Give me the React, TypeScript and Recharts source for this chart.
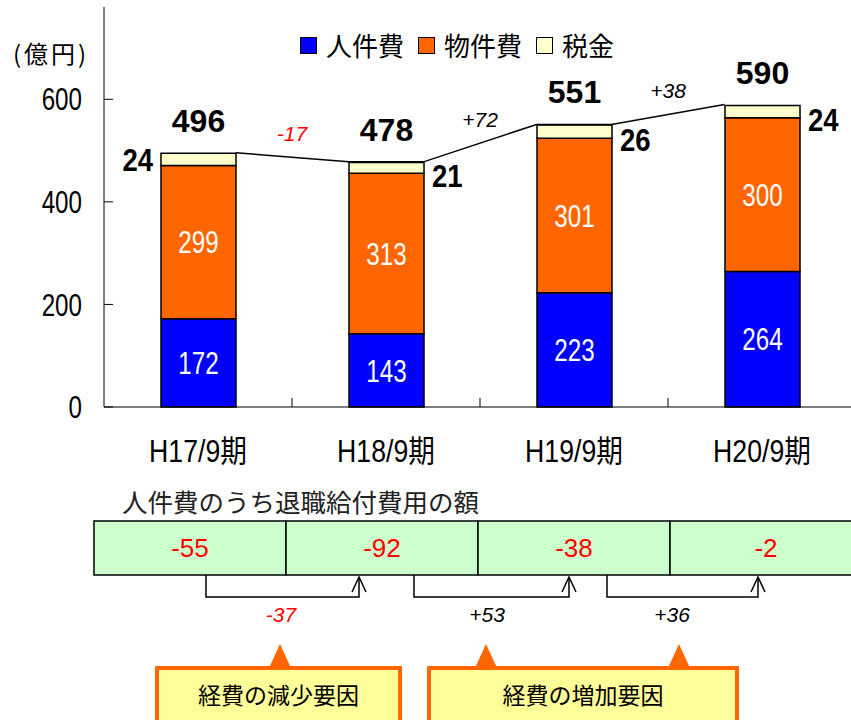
import React from 'react';
import { ComposedChart, Bar, Line, XAxis, YAxis, LabelList, ReferenceDot } from 'recharts';

const periods = ['H17/9期', 'H18/9期', 'H19/9期', 'H20/9期'];
const personnel = [172, 143, 223, 264];
const goods = [299, 313, 301, 300];
const taxes = [24, 21, 26, 24];
const totals = [496, 478, 551, 590];
const changes = ['-17', '+72', '+38'];
const yTicks = [0, 200, 400, 600];

const retirement = ['-55', '-92', '-38', '-2'];
const retirementChanges = ['-37', '+53', '+36'];
const factorBoxes = ['経費の減少要因', '経費の増加要因'];

const NUM_FONT = '"Liberation Sans", Arial, sans-serif';
const JP_FONT = '"Noto Sans CJK JP", sans-serif';
const MIX_FONT = '"Liberation Sans", "Noto Sans CJK JP", sans-serif';

const BLUE = '#0000ff';
const ORANGE = '#ff6600';
const CREAM = '#ffffcc';

const CHART_W = 870;
const CHART_H = 480;
const MARGIN = { top: 7, right: 14, left: 44, bottom: 23 };
const BAND = (CHART_W - MARGIN.left - MARGIN.right - 60) / periods.length;
const BAR_SIZE = 75;
const HALF = BAR_SIZE / 2 / BAND;

const data = periods.map((period, i) => ({
  period,
  personnel: personnel[i],
  goods: goods[i],
  tax: taxes[i],
}));

// connector from the top right corner of one bar to the top left of the next
const connector = totals.flatMap((t, i) => {
  const pts = [];
  if (i > 0) pts.push({ x: i - HALF, v: t });
  if (i < totals.length - 1) pts.push({ x: i + HALF, v: t });
  return pts;
});

// condensed text, the original uses a narrow face for the numbers
const NText = ({ x, y, anchor = 'middle', size = 31, sx = 0.78, fill = '#000', font = NUM_FONT, weight = 'normal', children }: any) => (
  <text
    transform={`translate(${x} ${y}) scale(${sx} 1)`}
    dy="0.36em"
    textAnchor={anchor}
    fontSize={size}
    fontWeight={weight}
    fontFamily={font}
    fill={fill}
  >
    {children}
  </text>
);

const YTick = (p: any) => (
  <g>
    <NText x={p.x} y={p.y} anchor="end">{p.payload.value}</NText>
    <line x1={p.x + 22} x2={p.x + 31} y1={p.y} y2={p.y} stroke="#000" />
  </g>
);

const XTick = (p: any) => (
  <g>
    <NText x={p.x} y={p.y + 14} size={31} sx={0.86} font={MIX_FONT}>{p.payload.value}</NText>
    {p.index < periods.length - 1 && (
      <line x1={p.x + BAND / 2} x2={p.x + BAND / 2} y1={p.y - 30} y2={p.y - 39} stroke="#000" />
    )}
  </g>
);

const InnerLabel = (p: any) => (
  <NText x={p.x + p.width / 2} y={p.y + p.height / 2} fill="#fff">{p.value}</NText>
);

const TaxLabel = (p: any) => {
  const { x, y, width, height, index, value } = p;
  const left = index === 0;
  return (
    <NText
      x={left ? x - 8 : x + width + 8}
      y={y + height / 2 + (left ? 0 : 8)}
      anchor={left ? 'end' : 'start'}
      size={32}
      sx={0.86}
      weight="bold"
    >
      {value}
    </NText>
  );
};

const TotalLabel = (p: any) => {
  const { x, y, width, index } = p;
  return (
    <text x={x + width / 2} y={y - 33} dy="0.36em" textAnchor="middle" fontSize={32} fontWeight="bold" fontFamily={NUM_FONT} fill="#000">
      {totals[index]}
    </text>
  );
};

const Legend = () => {
  const items = [
    { name: '人件費', color: BLUE },
    { name: '物件費', color: ORANGE },
    { name: '税金', color: CREAM },
  ];
  return (
    <div style={{ position: 'absolute', left: 300, top: 31, display: 'flex', alignItems: 'center', fontFamily: JP_FONT, fontSize: 26, lineHeight: '28px' }}>
      {items.map((it) => (
        <div key={it.name} style={{ display: 'flex', alignItems: 'center', marginRight: 14 }}>
          <span style={{ width: 15, height: 15, background: it.color, border: '1px solid #000', marginRight: 9, display: 'inline-block' }} />
          <span>{it.name}</span>
        </div>
      ))}
    </div>
  );
};

const CELL_X0 = 94;
const CELL_W = 192;
const bracketStart = [206, 414, 607];
const bracketEnd = [359, 569, 758];
const changeX = [281, 487, 672];
const boxes = [
  { x: 157, w: 243, tips: [280] },
  { x: 429, w: 308, tips: [486, 679] },
];

const Bottom = () => (
  <svg width={851} height={720} style={{ position: 'absolute', left: 0, top: 0, pointerEvents: 'none' }}>
    <text x={122} y={500} dominantBaseline="central" fontSize={25.5} fontFamily={JP_FONT} fill="#222">
      人件費のうち退職給付費用の額
    </text>
    {retirement.map((v, i) => (
      <g key={i}>
        <rect x={CELL_X0 + CELL_W * i} y={521} width={CELL_W} height={54} fill="#ccffcc" stroke="#000" strokeWidth={1.5} />
        <text x={CELL_X0 + CELL_W * i + CELL_W / 2} y={548} dominantBaseline="central" textAnchor="middle" fontSize={26} fontFamily={NUM_FONT} fill="#ff0000">
          {v}
        </text>
      </g>
    ))}
    {retirementChanges.map((c, i) => (
      <g key={i}>
        <path d={`M${bracketStart[i]} 575 V597 H${bracketEnd[i]} V577`} fill="none" stroke="#000" strokeWidth={1.5} />
        <path d={`M${bracketEnd[i] - 7} 592 L${bracketEnd[i]} 577 L${bracketEnd[i] + 7} 592`} fill="none" stroke="#000" strokeWidth={1.5} />
        <text x={changeX[i]} y={614} dominantBaseline="central" textAnchor="middle" fontSize={21} fontStyle="italic" fontFamily={NUM_FONT} fill={c.startsWith('-') ? '#ff0000' : '#000'}>
          {c}
        </text>
      </g>
    ))}
    {boxes.map((b, i) => (
      <g key={i}>
        {b.tips.map((t) => (
          <path key={t} d={`M${t - 11} 668 L${t} 644 L${t + 11} 668 Z`} fill={ORANGE} />
        ))}
        <rect x={b.x} y={668} width={b.w} height={70} fill="#ffff99" stroke={ORANGE} strokeWidth={4} />
        <text x={b.x + b.w / 2} y={694} dominantBaseline="central" textAnchor="middle" fontSize={23} fontFamily={JP_FONT} fill="#000">
          {factorBoxes[i]}
        </text>
      </g>
    ))}
  </svg>
);

export default function App() {
  return (
    <div style={{ position: 'absolute', left: 0, top: 0, width: 851, height: 720, overflow: 'hidden', background: '#fff' }}>
      <ComposedChart width={CHART_W} height={CHART_H} data={data} margin={MARGIN}>
        <XAxis
          xAxisId="cat"
          dataKey="period"
          tick={XTick}
          tickLine={false}
          tickSize={0}
          tickMargin={30}
          height={50}
          axisLine={{ stroke: '#000' }}
        />
        <XAxis xAxisId="num" type="number" dataKey="x" domain={[-0.5, 3.5]} allowDataOverflow hide />
        <YAxis
          domain={[0, 780]}
          ticks={yTicks}
          tick={YTick}
          tickLine={false}
          tickSize={0}
          tickMargin={22}
          width={60}
          axisLine={{ stroke: '#000' }}
        />
        <Bar xAxisId="cat" dataKey="personnel" stackId="s" fill={BLUE} stroke="#000" strokeWidth={1.5} barSize={BAR_SIZE} isAnimationActive={false}>
          <LabelList dataKey="personnel" content={InnerLabel} />
        </Bar>
        <Bar xAxisId="cat" dataKey="goods" stackId="s" fill={ORANGE} stroke="#000" strokeWidth={1.5} barSize={BAR_SIZE} isAnimationActive={false}>
          <LabelList dataKey="goods" content={InnerLabel} />
        </Bar>
        <Bar xAxisId="cat" dataKey="tax" stackId="s" fill={CREAM} stroke="#000" strokeWidth={1.5} barSize={BAR_SIZE} isAnimationActive={false}>
          <LabelList dataKey="tax" content={TaxLabel} />
          <LabelList dataKey="tax" content={TotalLabel} />
        </Bar>
        <Line
          xAxisId="num"
          data={connector}
          dataKey="v"
          type="linear"
          stroke="#000"
          strokeWidth={1.5}
          dot={false}
          isAnimationActive={false}
        />
        {changes.map((c, i) => (
          <ReferenceDot
            key={c}
            xAxisId="num"
            x={i + 0.5}
            y={(totals[i] + totals[i + 1]) / 2}
            r={0}
            fill="none"
            stroke="none"
            label={{
              content: (p: any) => (
                <text
                  x={p.viewBox.x + p.viewBox.width / 2}
                  y={p.viewBox.y - 24}
                  dy="0.36em"
                  textAnchor="middle"
                  fontSize={21}
                  fontStyle="italic"
                  fontFamily={NUM_FONT}
                  fill={c.startsWith('-') ? '#ff0000' : '#000'}
                >
                  {c}
                </text>
              ),
            }}
          />
        ))}
      </ComposedChart>
      <Legend />
      <div style={{ position: 'absolute', left: 13, top: 38, fontFamily: JP_FONT, fontSize: 24, lineHeight: '30px', letterSpacing: 3 }}>(億円)</div>
      <Bottom />
    </div>
  );
}
